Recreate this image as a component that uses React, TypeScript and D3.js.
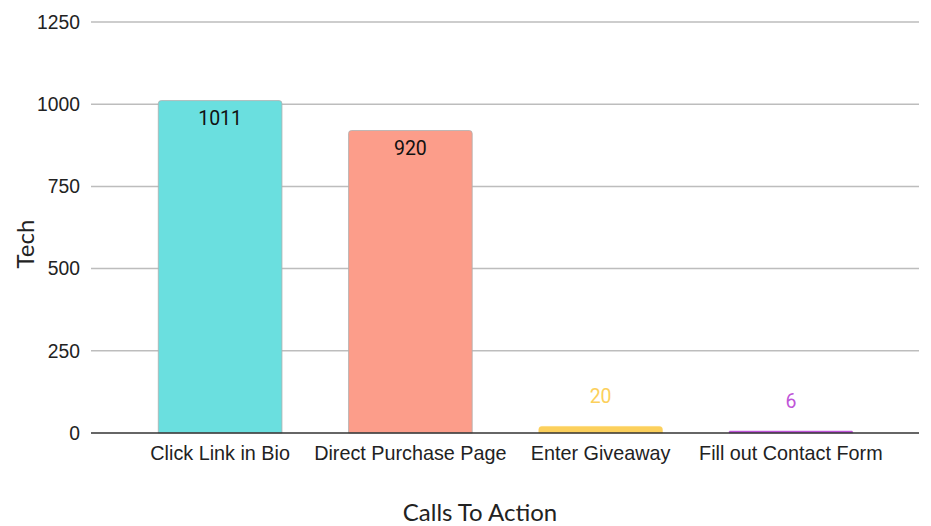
import React from "react";
import * as d3 from "d3";

const categories = ["Click Link in Bio", "Direct Purchase Page", "Enter Giveaway", "Fill out Contact Form"];
const values = [1011, 920, 20, 6];
const colors = ["#6ADFDF", "#FC9D8A", "#FCD05C", "#BF55D8"];
const yTicks = [0, 250, 500, 750, 1000, 1250];

const W = 931;
const H = 526;

export default function App() {
  const x = d3.scaleBand<string>().domain(categories).range([125, 886]).paddingInner(0.35).paddingOuter(0.175);
  const y = d3.scaleLinear().domain([0, 1250]).range([433, 22]);
  const bw = x.bandwidth();
  const r = 3;
  const barPath = (x0: number, y0: number, w: number, h: number) => {
    const rr = Math.min(r, h / 2);
    return `M${x0},${y0 + h}V${y0 + rr}Q${x0},${y0} ${x0 + rr},${y0}H${x0 + w - rr}Q${x0 + w},${y0} ${x0 + w},${y0 + rr}V${y0 + h}Z`;
  };
  return (
    <svg width={W} height={H} style={{ position: "absolute", left: 0, top: 0, background: "#fff" }}>
      {yTicks.map((t) => (
        <g key={t}>
          {t !== 0 && <line x1={91} x2={919} y1={y(t)} y2={y(t)} stroke="#bdbdbd" strokeWidth={1.5} />}
          <text x={80} y={y(t)} dy="0.35em" textAnchor="end" fontFamily="Liberation Sans, Arial, sans-serif" fontSize={19.3} fill="#222">
            {t}
          </text>
        </g>
      ))}
      {categories.map((c, i) => {
        const v = values[i];
        const x0 = x(c)!;
        const y0 = y(v);
        const h = y(0) - y0;
        const big = v > 200;
        return (
          <g key={c}>
            <path d={barPath(x0, y0, bw, Math.max(h, 1.5))} fill={colors[i]} stroke={big ? "#b0b0b0" : colors[i]} strokeWidth={big ? 0.8 : 0.5} />
            {big ? (
              <text x={x0 + bw / 2} y={y0 + 24.5} textAnchor="middle" fontFamily="Roboto, sans-serif" fontSize={19.5} fill="#111">
                {v}
              </text>
            ) : (
              <text
                x={x0 + bw / 2}
                y={y0 - 23 + (i === 3 ? 0 : 0)}
                textAnchor="middle"
                fontFamily="Roboto, sans-serif"
                fontSize={19.5}
                fill={colors[i]}
                stroke="#fff"
                strokeWidth={3}
                paintOrder="stroke"
              >
                {v}
              </text>
            )}
            <text x={x0 + bw / 2} y={453} dy="0.35em" textAnchor="middle" fontFamily="Liberation Sans, Arial, sans-serif" fontSize={19.8} fill="#222">
              {c}
            </text>
          </g>
        );
      })}
      <line x1={91} x2={919} y1={y(0)} y2={y(0)} stroke="#333" strokeWidth={1.5} />
      <text x={480} y={513} dy="0.35em" textAnchor="middle" fontFamily="Lato, sans-serif" fontSize={24} fill="#222">
        Calls To Action
      </text>
      <text transform={`translate(26,244) rotate(-90)`} dy="0.35em" textAnchor="middle" fontFamily="Lato, sans-serif" fontSize={24} fill="#222">
        Tech
      </text>
    </svg>
  );
}
